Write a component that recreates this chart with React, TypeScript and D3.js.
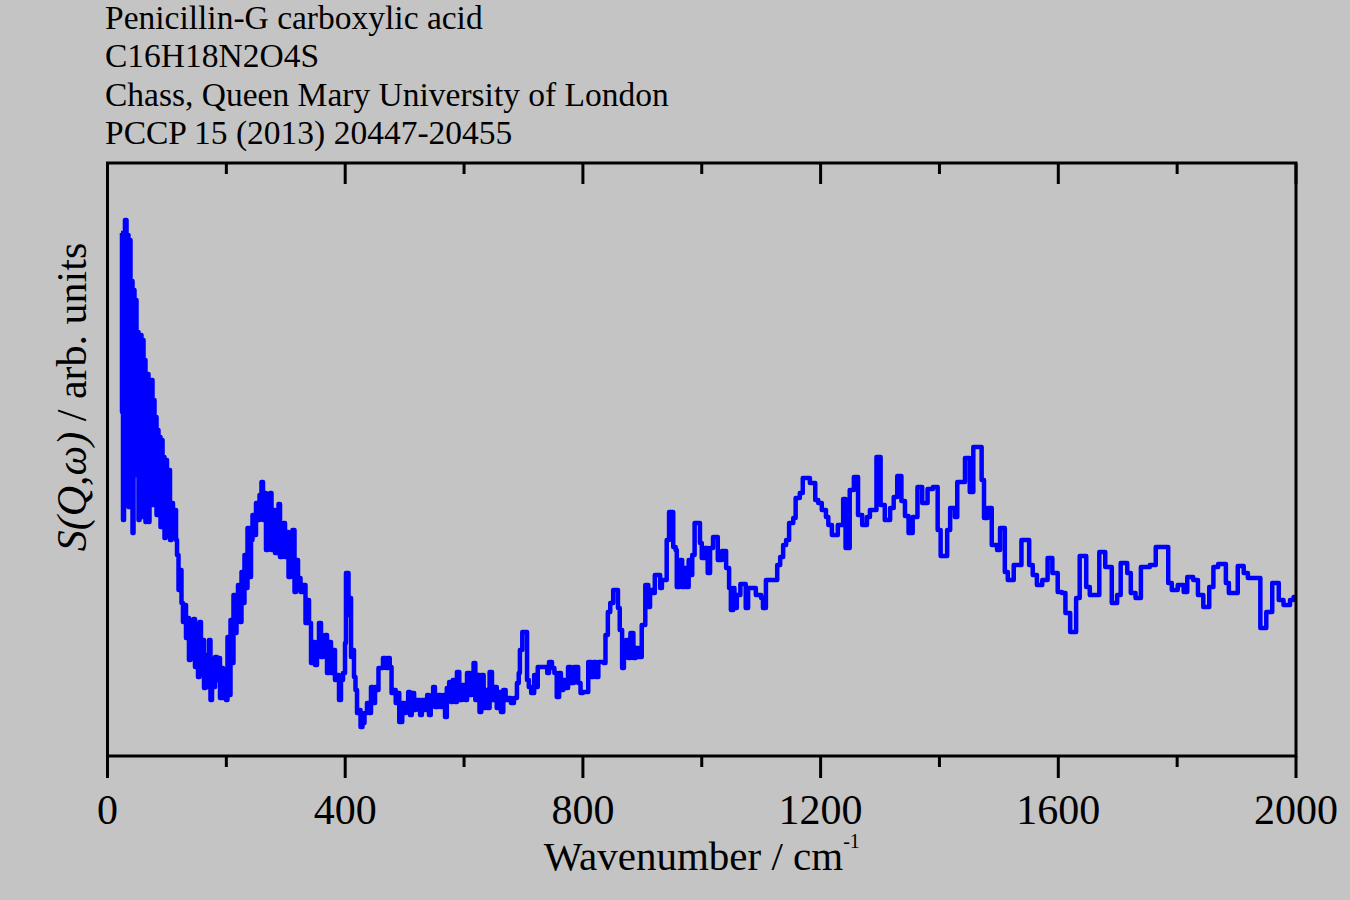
import { useMemo } from 'react';
import { scaleLinear, line, curveStepAfter } from 'd3';

// ============================================
// DATA (arb. units)
// ============================================

const titleLines = [
  'Penicillin-G carboxylic acid',
  'C16H18N2O4S',
  'Chass, Queen Mary University of London',
  'PCCP 15 (2013) 20447-20455',
];

const majorTicks = [0, 400, 800, 1200, 1600, 2000];
const minorTicks = [200, 600, 1000, 1400, 1800];

// step start wavenumber (cm-1)
const wavenumber = [
  22.7, 24.4, 26.1, 27.8, 29.4, 32.0, 33.7, 35.3, 37.0, 38.7, 40.4, 42.1, 43.8, 45.4, 47.1, 48.8, 50.5,
  52.2, 53.9, 55.5, 57.2, 58.9, 60.6, 62.3, 63.9, 65.6, 67.3, 69.0, 70.7, 72.4, 74.0, 75.7, 77.4, 79.1,
  80.8, 82.5, 84.1, 85.8, 87.5, 89.2, 90.9, 92.6, 94.2, 95.9, 97.6, 100.1, 102.7, 105.2, 107.7, 110.2,
  112.7, 115.3, 117.0, 119.5, 122.0, 124.5, 127.0, 129.6, 132.1, 134.6, 137.1, 139.7, 142.2, 144.7,
  147.2, 149.8, 152.3, 154.8, 157.3, 159.9, 162.4, 164.9, 167.4, 170.8, 173.3, 175.9, 178.4, 180.9,
  184.3, 186.8, 189.3, 191.8, 194.4, 196.9, 199.4, 201.9, 204.5, 207.0, 209.5, 212.0, 214.6, 217.1,
  219.6, 223.0, 225.5, 228.0, 230.5, 233.1, 235.6, 239.0, 241.5, 244.0, 247.4, 249.9, 253.3, 255.8,
  259.1, 261.7, 264.2, 266.7, 270.1, 273.5, 276.0, 278.5, 281.9, 285.2, 287.8, 290.3, 293.7, 296.2,
  298.7, 302.1, 304.6, 307.9, 311.3, 314.7, 317.2, 320.6, 324.8, 329.0, 333.2, 336.6, 339.1, 342.5,
  345.8, 349.2, 352.5, 355.9, 359.3, 362.6, 366.0, 369.4, 372.7, 376.1, 379.5, 382.8, 386.2, 389.6,
  392.9, 396.3, 399.7, 401.3, 405.6, 408.1, 409.8, 412.3, 414.8, 417.3, 419.9, 422.4, 425.8, 429.1,
  432.5, 436.7, 440.1, 443.4, 446.8, 450.2, 453.5, 456.0, 463.6, 468.7, 472.0,
  475, 478, 482, 485, 489, 491, 496, 499, 502, 506, 509, 512, 516, 519, 526, 529, 534, 538, 541, 544,
  548, 551, 556, 561, 565, 568, 571, 575, 578, 581, 585, 588, 592, 597, 602, 605, 610, 613, 616, 619,
  623, 626, 629, 633, 636, 639, 643, 647, 651, 655, 659, 662, 666, 670, 674, 679, 684, 689, 692, 694,
  698, 706, 709, 713, 718, 721, 724, 740, 743, 748, 752, 756, 760, 763, 767, 770, 775, 780, 785, 792,
  796, 800, 809, 814, 818, 822, 826, 835, 838, 842, 846, 851, 859, 862, 866, 869, 873, 876, 880, 885,
  889, 894, 899, 905, 910, 913, 917, 921, 930, 933, 941, 945, 952, 956, 958, 963, 967, 971, 974, 978,
  981, 984, 988, 997, 1000, 1005, 1010, 1014, 1019, 1027, 1034, 1041, 1046, 1049, 1053, 1055, 1059,
  1065, 1074, 1078, 1091, 1100, 1103, 1108, 1127, 1132, 1137, 1142, 1147, 1154, 1158, 1165, 1170,
  1182, 1191, 1196, 1202, 1209, 1213, 1219, 1229, 1238, 1242, 1249, 1256, 1263, 1270, 1278, 1283,
  1294, 1301, 1308, 1317, 1323, 1329, 1336, 1342, 1348, 1355, 1363, 1371, 1380, 1389, 1397, 1402,
  1413, 1418, 1426, 1430, 1443, 1451, 1457, 1471, 1475, 1481, 1488, 1497, 1502, 1510, 1515, 1525,
  1538, 1551, 1557, 1564, 1573, 1582, 1590, 1599, 1606, 1612, 1620, 1630, 1636, 1647, 1653, 1669,
  1679, 1690, 1699, 1705, 1716, 1722, 1730, 1739, 1754, 1764, 1785, 1791, 1801, 1811, 1817, 1827,
  1835, 1844, 1854, 1861, 1869, 1882, 1887, 1902, 1912, 1919, 1940, 1950, 1960, 1971, 1979, 1990,
  1996, 2000,
];

const intensity = [
  523, 344, 236, 456, 536, 276, 521, 249, 516, 356, 475, 223, 466, 286, 456, 281, 424,
  236, 411, 421, 239, 416, 256, 396, 234, 376, 382, 234, 366, 251, 376, 251, 356, 286,
  339, 241, 326, 256, 319, 229, 316, 246, 299, 218, 296, 221, 286, 216, 253, 221,
  246, 216, 201, 166, 186, 153, 134, 151, 118, 138, 96, 136, 106, 137,
  89, 126, 79, 134, 86, 116, 68, 101, 69, 116, 56, 96, 69, 99,
  76, 98, 58, 88, 58, 86, 56, 119, 61, 136, 93, 161, 123, 156,
  171, 134, 184, 153, 201, 168, 228, 179, 216, 241, 221, 253, 236, 261,
  274, 236, 263, 206, 256, 263, 206, 246, 203, 236, 252, 199, 226, 233,
  199, 224, 179, 211, 226, 164, 196, 178, 164, 171, 133, 156, 133, 93,
  114, 91, 106, 133, 99, 116, 121, 83, 114, 83, 106, 76, 81, 56,
  76, 83, 113, 183, 141, 158, 99, 106, 79, 66, 43, 46, 29, 33,
  43, 53, 43, 69, 53, 69, 66, 88, 98, 88, 98,
  89, 63, 66, 53, 63, 34, 53, 43, 53, 64, 41, 63, 46, 56, 41, 56, 46, 61, 41, 53,
  69, 49, 61, 49, 61, 39, 68, 74, 54, 76, 54, 84, 56, 71, 56, 83, 61, 76, 93, 56,
  81, 44, 81, 48, 66, 48, 84, 56, 69, 48, 64, 44, 66, 56, 58, 53, 58, 73, 83, 106,
  124, 76, 69, 63, 81, 69, 89, 83, 94, 88, 83, 59, 83, 66, 76, 68, 89, 73, 89, 73,
  63, 64, 94, 79, 94, 79, 94, 93, 121, 144, 153, 166, 148, 126, 88, 108, 116, 98, 123, 98,
  108, 99, 131, 171, 149, 166, 163, 181, 168, 176, 216, 244, 209, 206, 169, 196, 169, 188, 169, 196,
  181, 201, 233, 213, 198, 208, 183, 208, 219, 196, 205, 188, 168, 146, 168, 148, 161,
  172, 148, 168, 161, 158, 148, 176, 191, 199, 211, 216, 233, 238, 258, 263, 278,
  273, 256, 253, 246, 239, 231, 221, 231, 257, 208, 266, 279, 241, 231, 239, 246,
  299, 251, 236, 248, 259, 280, 255, 240, 223, 239, 269, 253, 267, 269, 226, 200,
  226, 248, 239, 274, 298, 264, 309, 276, 238, 248, 211, 206, 228, 184, 176, 191,
  216, 191, 181, 171, 176, 198, 183, 164, 163, 143, 124, 158, 200, 169, 161, 204,
  189, 153, 161, 193, 183, 163, 158, 189, 191, 209, 173, 166, 171, 164, 179, 176,
  161, 149, 169, 189, 192, 173, 163, 190, 183, 178, 128, 144, 173, 156, 151, 156,
  159, 159,
];

// ============================================
// COMPONENT
// ============================================

const W = 1350;
const H = 900;
const margin = { top: 163, right: 54, bottom: 144, left: 107.5 };
const font = '"Liberation Serif", "Times New Roman", serif';

export default function App() {
  const innerBottom = H - margin.bottom;
  const innerRight = W - margin.right;

  const x = useMemo(() => scaleLinear().domain([0, 2000]).range([margin.left, innerRight]), [innerRight]);
  const y = useMemo(() => scaleLinear().domain([0, 593]).range([innerBottom, margin.top]), [innerBottom]);

  const points = wavenumber.map((w, i) => [w, intensity[i]] as [number, number]);
  const pathD =
    line<[number, number]>()
      .x((d) => x(d[0]))
      .y((d) => y(d[1]))
      .curve(curveStepAfter)(points) || '';

  return (
    <svg
      width={W}
      height={H}
      style={{ position: 'absolute', left: 0, top: 0, display: 'block', background: '#c4c4c4' }}
      fontFamily={font}
    >
      <rect x={0} y={0} width={W} height={H} fill="#c4c4c4" />

      {/* header text */}
      {titleLines.map((t, i) => (
        <text key={t} x={105} y={29 + i * 38.3} fontSize={33.5} fill="#000">
          {t}
        </text>
      ))}

      {/* spectrum */}
      <path d={pathD} fill="none" stroke="#0000ff" strokeWidth={4.5} strokeLinejoin="round" />

      {/* frame */}
      <rect
        x={margin.left}
        y={margin.top}
        width={innerRight - margin.left}
        height={innerBottom - margin.top}
        fill="none"
        stroke="#000"
        strokeWidth={3}
      />

      {/* ticks */}
      {majorTicks.map((t) => (
        <g key={`M${t}`}>
          <line x1={x(t)} x2={x(t)} y1={innerBottom} y2={innerBottom + 22} stroke="#000" strokeWidth={3} />
          <line x1={x(t)} x2={x(t)} y1={margin.top} y2={margin.top + 21} stroke="#000" strokeWidth={3} />
          <text x={x(t)} y={824} fontSize={42} textAnchor="middle" fill="#000">
            {t}
          </text>
        </g>
      ))}
      {minorTicks.map((t) => (
        <g key={`m${t}`}>
          <line x1={x(t)} x2={x(t)} y1={innerBottom} y2={innerBottom + 11} stroke="#000" strokeWidth={3} />
          <line x1={x(t)} x2={x(t)} y1={margin.top} y2={margin.top + 11} stroke="#000" strokeWidth={3} />
        </g>
      ))}

      {/* axis labels */}
      <text x={(margin.left + innerRight) / 2} y={870} fontSize={41} textAnchor="middle" fill="#000">
        Wavenumber / cm
        <tspan dy={-22} fontSize={20}>
          -1
        </tspan>
      </text>
      <text
        transform={`translate(86, 397) rotate(-90)`}
        fontSize={42}
        textAnchor="middle"
        fill="#000"
      >
        <tspan fontStyle="italic">S(Q,ω)</tspan>
        <tspan> / arb. units</tspan>
      </text>
    </svg>
  );
}
